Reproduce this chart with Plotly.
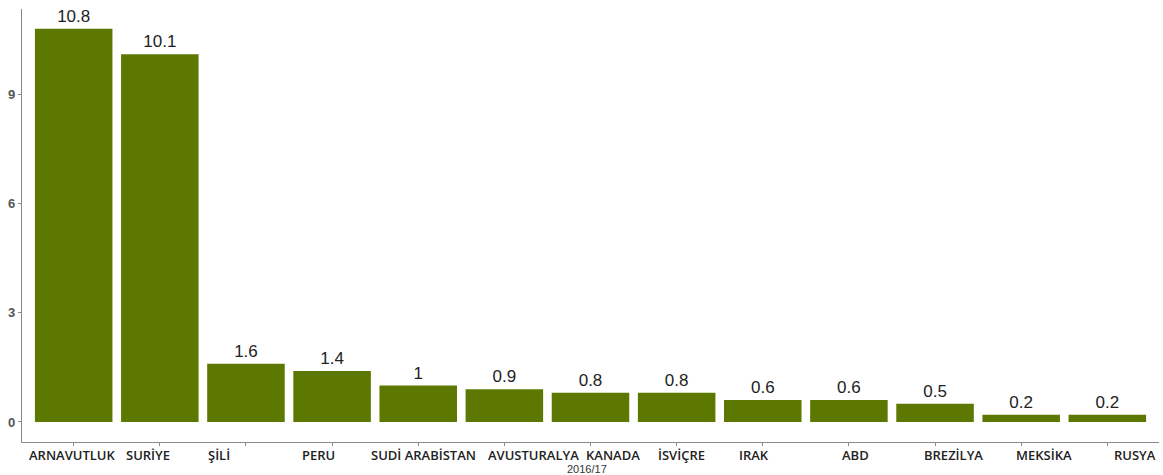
import plotly.graph_objects as go

countries = ["ARNAVUTLUK", "SURİYE", "ŞİLİ", "PERU", "SUDİ ARABİSTAN", "AVUSTURALYA",
             "KANADA", "İSVİÇRE", "IRAK", "ABD", "BREZİLYA", "MEKSİKA", "RUSYA"]
values = [10.8, 10.1, 1.6, 1.4, 1.0, 0.9, 0.8, 0.8, 0.6, 0.6, 0.5, 0.2, 0.2]
labels = ["10.8", "10.1", "1.6", "1.4", "1", "0.9", "0.8", "0.8", "0.6", "0.6", "0.5", "0.2", "0.2"]
y_ticks = [0, 3, 6, 9]
x_title = "2016/17"

# horizontal nudges (px) of the category labels, as placed in the reference
label_shift = [-2, -12, -27, -14, 5, 29, 22, 5, -9, 7, 18, 23, 28]

fig = go.Figure(go.Bar(
    x=countries, y=values, text=labels,
    textposition="outside", cliponaxis=False,
    textfont=dict(family="Liberation Sans, Arial", size=17, color="#222222"),
    marker=dict(color="#5d7800", line=dict(width=0)),
    width=0.9,
))

annotations = [dict(text=x_title, xref="paper", yref="paper", x=0.5, y=0,
                    xshift=-4, yshift=-27, showarrow=False, xanchor="center", yanchor="middle",
                    borderpad=0,
                    font=dict(family="Liberation Sans, Arial", size=11, color="#333333"))]
for c, s in zip(countries, label_shift):
    annotations.append(dict(text=c, xref="x", yref="paper", x=c, y=0, xshift=s, yshift=-13,
                            showarrow=False, xanchor="center", yanchor="middle", borderpad=0,
                            font=dict(family="Open Sans", size=13, color="#222222", weight=600)))

fig.update_layout(
    width=1163, height=475,
    margin=dict(l=22, r=4, t=9, b=33),
    plot_bgcolor="white", paper_bgcolor="white",
    showlegend=False,
    bargap=0.1,
    annotations=annotations,
)
fig.update_xaxes(
    range=[-0.6, 12.6], showline=True, linecolor="#8a8a8a", linewidth=1.2,
    ticks="outside", ticklen=3, tickcolor="#8a8a8a", automargin=False,
    showticklabels=False,
    showgrid=False, zeroline=False,
)
fig.update_yaxes(
    range=[-0.55, 11.34], tickvals=y_ticks, showline=True, linecolor="#8a8a8a", linewidth=1.2,
    ticks="outside", ticklen=3, tickcolor="#8a8a8a", automargin=False,
    tickfont=dict(family="Liberation Sans, Arial", size=13, color="#555555", weight="bold"),
    showgrid=False, zeroline=False,
)

fig.write_html("out.html", config={"displayModeBar": False},
               post_script="document.body.style.margin='0';document.body.style.overflow='hidden';")
